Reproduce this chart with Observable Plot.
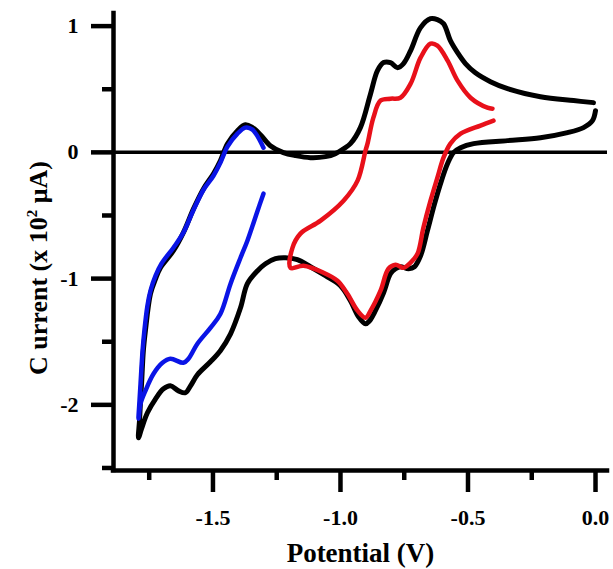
<!DOCTYPE html>
<html>
<head>
<meta charset="utf-8">
<script src="https://cdn.jsdelivr.net/npm/d3@7"></script>
<script src="https://cdn.jsdelivr.net/npm/@observablehq/plot@0.6"></script>
<style>
  html, body { margin: 0; padding: 0; background: #fff; }
</style>
</head>
<body>
<div id="chart"></div>
<script>
// Black CV: 0.0 V -> -1.8 V -> 0.0 V
const blackX = [0.000,-0.012,-0.047,-0.110,-0.216,-0.345,-0.478,-0.529,-0.557,-0.580,-0.604,-0.631,-0.659,-0.686,-0.710,-0.733,-0.765,-0.784,-0.804,-0.831,-0.863,-0.886,-0.902,-0.929,-0.961,-1.000,-1.059,-1.118,-1.169,-1.216,-1.255,-1.294,-1.325,-1.365,-1.392,-1.431,-1.471,-1.510,-1.561,-1.588,-1.608,-1.635,-1.667,-1.694,-1.725,-1.757,-1.780,-1.792,
  -1.788,-1.784,-1.780,-1.773,-1.765,-1.745,-1.725,-1.706,-1.655,-1.616,-1.576,-1.537,-1.498,-1.471,-1.443,-1.404,-1.373,-1.345,-1.314,-1.275,-1.224,-1.176,-1.118,-1.059,-1.020,-0.988,-0.961,-0.922,-0.882,-0.855,-0.831,-0.804,-0.776,-0.753,-0.725,-0.686,-0.647,-0.620,-0.596,-0.569,-0.541,-0.510,-0.471,-0.412,-0.345,-0.216,-0.086,-0.008];
const blackY = [0.330,0.251,0.196,0.156,0.116,0.093,0.069,0.037,-0.002,-0.089,-0.224,-0.406,-0.620,-0.819,-0.906,-0.922,-0.906,-0.922,-0.961,-1.112,-1.254,-1.334,-1.358,-1.302,-1.175,-1.056,-0.977,-0.906,-0.850,-0.835,-0.842,-0.882,-0.937,-1.040,-1.231,-1.437,-1.571,-1.659,-1.762,-1.849,-1.904,-1.889,-1.849,-1.873,-1.952,-2.063,-2.189,-2.261,
  -2.126,-1.967,-1.833,-1.571,-1.414,-1.120,-1.001,-0.914,-0.779,-0.636,-0.446,-0.288,-0.169,-0.066,0.069,0.172,0.219,0.196,0.140,0.053,-0.002,-0.026,-0.042,-0.034,-0.010,0.029,0.069,0.196,0.465,0.647,0.711,0.711,0.671,0.703,0.806,0.988,1.059,1.052,1.020,0.885,0.790,0.703,0.630,0.560,0.505,0.441,0.410,0.394];

// Red CV: -0.4 V -> -1.2 V -> -0.4 V
const redX = [-0.400,-0.451,-0.529,-0.569,-0.596,-0.620,-0.647,-0.675,-0.698,-0.725,-0.753,-0.784,-0.812,-0.843,-0.882,-0.902,-0.933,-0.973,-1.012,-1.067,-1.145,-1.196,
  -1.188,-1.157,-1.078,-0.988,-0.933,-0.902,-0.894,-0.871,-0.843,-0.804,-0.765,-0.725,-0.686,-0.647,-0.620,-0.580,-0.541,-0.490,-0.424,-0.404];
const redY = [0.251,0.212,0.148,0.069,-0.042,-0.200,-0.383,-0.597,-0.803,-0.874,-0.914,-0.890,-0.922,-1.096,-1.254,-1.310,-1.254,-1.120,-1.017,-0.953,-0.898,-0.914,
  -0.755,-0.644,-0.541,-0.383,-0.224,0.013,0.069,0.275,0.410,0.425,0.433,0.544,0.750,0.861,0.846,0.727,0.568,0.433,0.354,0.346];

// Blue CV: -1.3 V -> -1.8 V -> -1.3 V
const blueX = [-1.302,-1.325,-1.365,-1.392,-1.431,-1.471,-1.510,-1.561,-1.596,-1.616,-1.667,-1.698,-1.733,-1.765,-1.784,-1.792,
  -1.788,-1.784,-1.776,-1.769,-1.757,-1.745,-1.725,-1.702,-1.655,-1.616,-1.576,-1.537,-1.498,-1.471,-1.443,-1.404,-1.373,-1.345,-1.302];
const blueY = [-0.327,-0.462,-0.700,-0.835,-1.040,-1.280,-1.390,-1.516,-1.635,-1.667,-1.635,-1.667,-1.754,-1.889,-1.991,-2.110,
  -1.967,-1.833,-1.571,-1.414,-1.215,-1.096,-0.977,-0.882,-0.755,-0.636,-0.454,-0.296,-0.185,-0.082,0.045,0.148,0.196,0.180,0.037];

const xTicks = [-1.5, -1.0, -0.5, 0.0];
const xMinor = [-1.75, -1.25, -0.75, -0.25];
const yTicks = [-2, -1, 0, 1];
const yMinor = [-2.5, -1.5, -0.5, 0.5];
const xTitle = "Potential (V)";
const yTitleMain = "C urrent (x 10";
const yTitleSup = "2";
const yTitleEnd = " μA)";

const toRows = (xs, ys) => xs.map((x, i) => ({x, y: ys[i]}));
const black = toRows(blackX, blackY);
const red = toRows(redX, redY);
const blue = toRows(blueX, blueY);

const xDom = [-1.89, 0.047];
const yDom = [-2.52, 1.10];
const font = "'Liberation Serif', 'Times New Roman', serif";

const plot = Plot.plot({
  width: 613,
  height: 569,
  marginLeft: 113,
  marginRight: 6,
  marginTop: 13,
  marginBottom: 99,
  x: {domain: xDom},
  y: {domain: yDom},
  style: {fontFamily: font, fontWeight: "bold", color: "#000", background: "#fff", overflow: "visible"},
  marks: [
    Plot.ruleY([0], {x1: xDom[0], x2: xDom[1], stroke: "#000", strokeWidth: 3.5}),
    Plot.line(black, {x: "x", y: "y", stroke: "#000", strokeWidth: 5, curve: "catmull-rom"}),
    Plot.line(red, {x: "x", y: "y", stroke: "#e8101a", strokeWidth: 4.5, curve: "catmull-rom"}),
    Plot.line(blue, {x: "x", y: "y", stroke: "#0a14e6", strokeWidth: 4.5, curve: "catmull-rom"}),
    Plot.ruleX([xDom[0]], {y1: yDom[0], y2: yDom[1], stroke: "#000", strokeWidth: 4.5, strokeLinecap: "square"}),
    Plot.ruleY([yDom[0]], {x1: xDom[0], x2: xDom[1], stroke: "#000", strokeWidth: 4.5, strokeLinecap: "square"}),
    Plot.axisY(yTicks, {label: null, tickSize: 22, tickPadding: 13, strokeWidth: 4.5, fontSize: 22, fontWeight: "bold", fontFamily: font, tickFormat: d => String(d)}),
    Plot.axisY(yMinor, {label: null, tickSize: 11, strokeWidth: 4.5, tickFormat: () => ""}),
    Plot.axisX(xTicks, {label: null, tickSize: 22, tickPadding: 17, strokeWidth: 4.5, fontSize: 22, fontWeight: "bold", fontFamily: font, tickFormat: d => d.toFixed(1)}),
    Plot.axisX(xMinor, {label: null, tickSize: 10, strokeWidth: 4.5, tickFormat: () => ""}),
    Plot.text([xTitle], {frameAnchor: "bottom", dy: 91, lineAnchor: "bottom", textAnchor: "middle", fontSize: 27, fontWeight: "bold", fontFamily: font}),
    Plot.text([yTitleMain + yTitleSup + yTitleEnd], {frameAnchor: "left", dx: -67, dy: 26, rotate: -90, lineAnchor: "bottom", textAnchor: "middle", fontSize: 26, fontWeight: "bold", fontFamily: font})
  ]
});

// superscript in the y title
d3.select(plot).selectAll("text").each(function() {
  if (this.textContent === yTitleMain + yTitleSup + yTitleEnd) {
    const t = d3.select(this);
    t.text(null);
    t.append("tspan").text(yTitleMain);
    t.append("tspan").attr("dy", "-10").attr("font-size", 15).text(yTitleSup);
    t.append("tspan").attr("dy", "10").text(yTitleEnd);
  }
});

document.getElementById("chart").appendChild(plot);
</script>
</body>
</html>
